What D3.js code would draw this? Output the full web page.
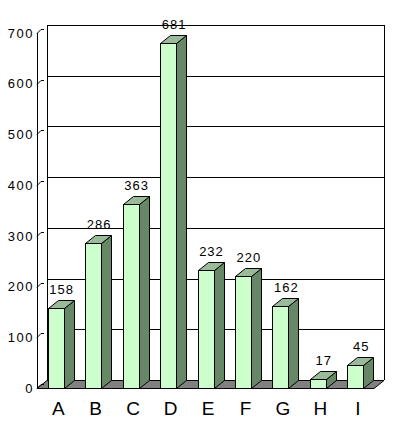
<!DOCTYPE html>
<html><head><meta charset="utf-8">
<script src="https://cdn.jsdelivr.net/npm/d3@7"></script>
<style>
body{margin:0;background:#fff;}
svg{display:block;}
text{font-family:"Liberation Sans",Arial,sans-serif;fill:#000;}
</style></head>
<body>
<svg id="c" width="394" height="437"></svg>
<script>
const categories = ["A","B","C","D","E","F","G","H","I"];
const values = [158,286,363,681,232,220,162,17,45];
const yTicks = [0,100,200,300,400,500,600,700];

(function(){
const pLeft = 37, pRight = 374, pBottom = 388, pTop = 33;
const dx = 10, dy = 8;
const svg = d3.select("#c");

const x = d3.scaleBand().domain(categories).range([pLeft, pRight]);
const y = d3.scaleLinear().domain([0, 700]).range([pBottom, pTop]);
const barW = 16;

// back wall gridlines
svg.append("g").selectAll("line").data(yTicks.filter(d => d > 0)).join("line")
  .attr("x1", pLeft + dx).attr("x2", pRight + dx)
  .attr("y1", d => Math.round(y(d) - dy) + 0.5).attr("y2", d => Math.round(y(d) - dy) + 0.5)
  .attr("stroke", "#000").attr("stroke-width", 1);
svg.append("line").attr("x1", pLeft + dx + 0.5).attr("x2", pLeft + dx + 0.5)
  .attr("y1", y(700) - dy).attr("y2", pBottom - dy).attr("stroke", "#000");
svg.append("line").attr("x1", pRight + dx + 0.5).attr("x2", pRight + dx + 0.5)
  .attr("y1", y(700) - dy).attr("y2", pBottom - dy).attr("stroke", "#000");

// floor
svg.append("path")
  .attr("d", `M${pLeft},${pBottom + 0.5}L${pRight},${pBottom + 0.5}L${pRight + dx},${pBottom - dy + 0.5}L${pLeft + dx},${pBottom - dy + 0.5}Z`)
  .attr("fill", "#808080").attr("stroke", "#000").attr("stroke-width", 1);

// front axis line
svg.append("line").attr("x1", pLeft + 0.5).attr("x2", pLeft + 0.5)
  .attr("y1", y(700)).attr("y2", pBottom).attr("stroke", "#000");

// y axis with diagonal ticks
const yAxis = d3.axisLeft(y).tickValues(yTicks).tickSize(0).tickPadding(3);
const ga = svg.append("g").attr("transform", `translate(${pLeft},0)`).call(yAxis);
ga.select(".domain").remove();
ga.selectAll("text").attr("font-size", 13).attr("letter-spacing", "1.5px")
  .attr("font-family", "'Liberation Sans',Arial,sans-serif").attr("fill", "#000");
svg.append("g").selectAll("path").data(yTicks).join("path")
  .attr("d", d => { const yy = Math.round(y(d)) + 0.5; return `M${pLeft},${yy}L${pLeft + 4},${yy - 4}L${pLeft + 7},${yy - 4}`; })
  .attr("fill", "none").attr("stroke", "#000");

// bars
const bars = svg.append("g").selectAll("g").data(categories.map((c, i) => ({c, v: values[i]}))).join("g");
bars.each(function(d) {
  const g = d3.select(this);
  const x0 = Math.round(x(d.c) + (x.bandwidth() - barW) / 2) + 0.5;
  const x1 = x0 + barW;
  const yt = Math.round(y(d.v)) + 0.5;
  const yb = pBottom + 0.5;
  g.append("path").attr("d", `M${x1},${yt}L${x1 + dx},${yt - dy}L${x1 + dx},${yb - dy}L${x1},${yb}Z`)
    .attr("fill", "#668866").attr("stroke", "#000");
  g.append("path").attr("d", `M${x0},${yt}L${x0 + dx},${yt - dy}L${x1 + dx},${yt - dy}L${x1},${yt}Z`)
    .attr("fill", "#99bb99").attr("stroke", "#000");
  g.append("rect").attr("x", x0).attr("y", yt).attr("width", barW).attr("height", yb - yt)
    .attr("fill", "#ccffcc").attr("stroke", "#000");
  g.append("text").attr("x", x(d.c) + x.bandwidth() / 2 + 6).attr("y", y(d.v) - dy - 6)
    .attr("text-anchor", "middle").attr("font-size", 13).attr("letter-spacing", "1px")
    .text(d.v);
});

// x labels
svg.append("g").selectAll("text").data(categories).join("text")
  .attr("x", d => x(d) + x.bandwidth() / 2 + 2.5).attr("y", 415)
  .attr("text-anchor", "middle")
  .attr("font-family", "'Liberation Sans Narrow','Liberation Sans',Arial,sans-serif")
  .attr("font-size", 19)
  .text(d => d);
})();
</script>
</body></html>
